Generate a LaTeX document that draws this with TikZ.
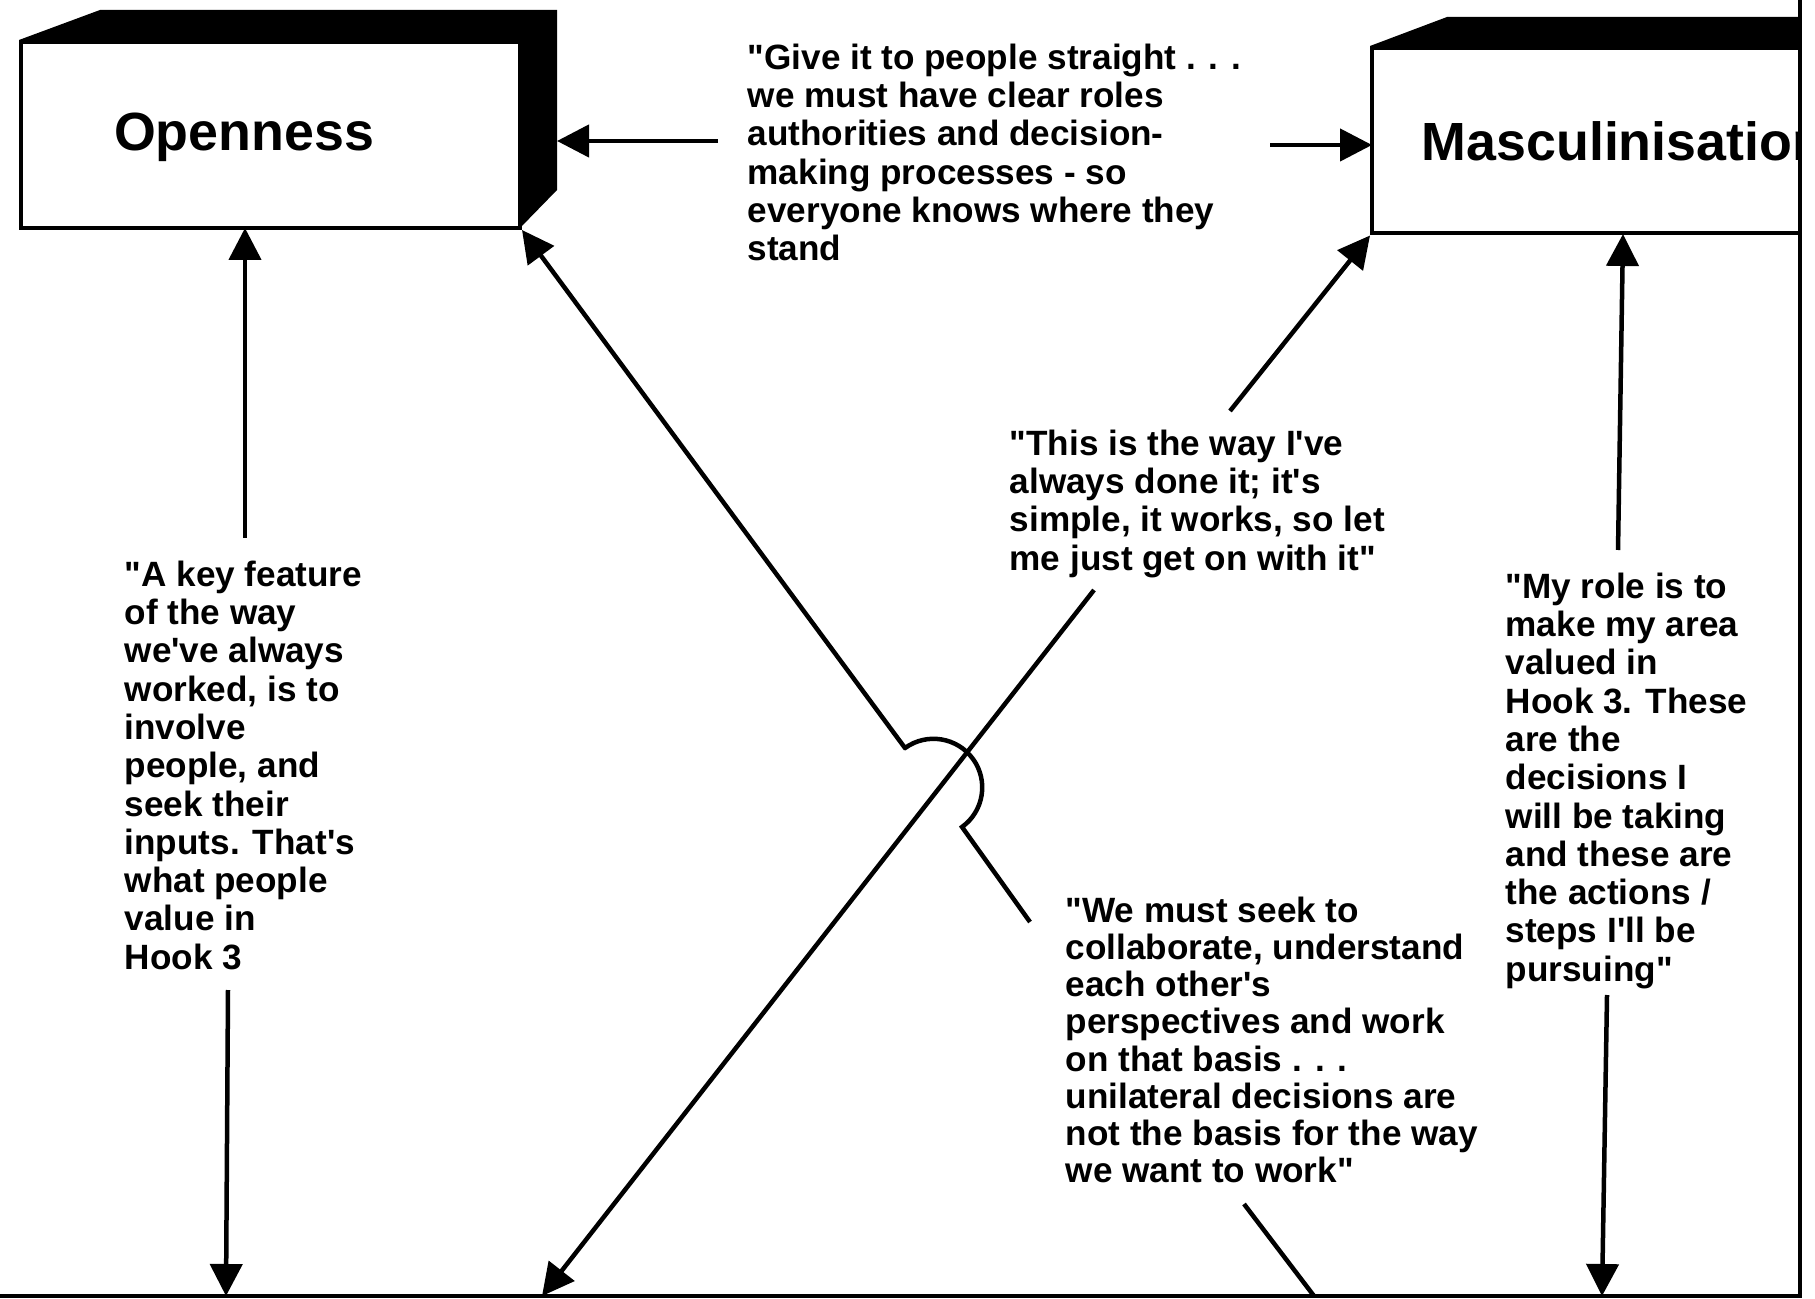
\documentclass[tikz,border=0pt]{standalone}
\usepackage{fontspec}
\setmainfont{Liberation Sans}[Ligatures=TeXOff]
\usetikzlibrary{arrows.meta}
\begin{document}
\begin{tikzpicture}[x=0.1mm,y=-0.1mm,
  conn/.style={line width=0.45mm},
  arr/.style={conn,-{Triangle[length=3.2mm,width=3.2mm]}},
  quote/.style={anchor=north west,inner sep=0pt,align=left,font=\fontsize{10}{10.9}\selectfont\bfseries},
  lbl/.style={inner sep=0pt,font=\fontsize{15.3}{18}\selectfont\bfseries},
  face/.style={draw,fill=white,line width=0.4mm,inner sep=0pt}]
\useasboundingbox (0,0) rectangle (1815,1299);

% --- Openness box ---
\fill (19,40) -- (100,10) -- (557,10) -- (557,190) -- (520,228) -- (520,42) -- cycle;
\node[face,minimum width=49.9mm,minimum height=18.6mm] (open) at (270.5,135) {};
\node[lbl] (openlbl) at (244,137) {Openness};

% --- Masculinisation box (cut by the frame, as in the source) ---
\begin{scope}
\clip (0,0) rectangle (1799,1299);
\fill (1370,46) -- (1447,17) -- (1900,17) -- (1900,50) -- (1370,50) -- cycle;
\node[face,minimum width=52.8mm,minimum height=18.5mm] (masc) at (1636,141) {};
\node[lbl,anchor=west] (masclbl) at (1421,141) {Masculinisation};
\end{scope}

% --- quotes ---
\node[quote] (q1) at (747,43) {"Give it to people straight . . .\\
we must have clear roles\\
authorities and decision-\\
making processes - so\\
everyone knows where they\\
stand};
\node[quote] (q2) at (1009,429) {"This is the way I've\\
always done it; it's\\
simple, it works, so let\\
me just get on with it"};
\node[quote] (q3) at (124,560) {"A key feature\\
of the way\\
we've always\\
worked, is to\\
involve\\
people, and\\
seek their\\
inputs. That's\\
what people\\
value in\\
Hook 3};
\node[quote] (q4) at (1505,572) {"My role is to\\
make my area\\
valued in\\
Hook 3. These\\
are the\\
decisions I\\
will be taking\\
and these are\\
the actions /\\
steps I'll be\\
pursuing"};
\node[quote,font=\fontsize{10}{10.6}\selectfont\bfseries] (q5) at (1065,896) {"We must seek to\\
collaborate, understand\\
each other's\\
perspectives and work\\
on that basis . . .\\
unilateral decisions are\\
not the basis for the way\\
we want to work"};

% --- connector end points ---
\coordinate (a0) at (718,141);
\coordinate (a1) at (557,141);
\coordinate (b0) at (1270,145);
\coordinate (b1) at (1372,145);
\coordinate (c0) at (245,538);
\coordinate (c1) at (245,228);
\coordinate (d0) at (228,990);
\coordinate (d1) at (226,1296);
\coordinate (e0) at (1030,922);
\coordinate (e1) at (962,827);
\coordinate (e2) at (905,748);
\coordinate (f0) at (1094,590);
\coordinate (f1) at (542,1296);
\coordinate (g0) at (1230,411);
\coordinate (h0) at (1618,550);
\coordinate (h1) at (1623,234);
\coordinate (i0) at (1607,995);
\coordinate (i1) at (1602,1296);
\coordinate (j0) at (1244,1204);
\coordinate (j1) at (1314,1296);

% --- connectors ---
\draw[arr] (a0) -- (a1);
\draw[arr] (b0) -- (b1);
\draw[arr] (c0) -- (c1);
\draw[arr] (d0) -- (d1);
\draw[arr] (e0) -- (e1) arc[start angle=-54.2,end angle=125.8,radius=4.87mm] -- (e2) -- (open.south east);
\draw[arr] (f0) -- (f1);
\draw[arr] (g0) -- (masc.south west);
\draw[arr] (h0) -- (h1);
\draw[arr] (i0) -- (i1);
\draw[conn] (j0) -- (j1);

% --- frame ---
\draw[line width=0.35mm] (0,1296) -- (1800,1296) -- (1800,0);
\end{tikzpicture}
\end{document}
